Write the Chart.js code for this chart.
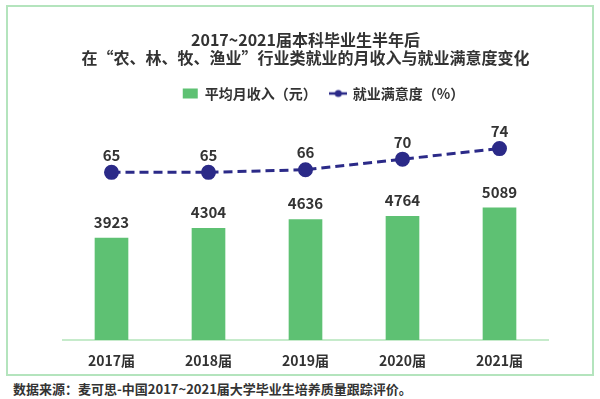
<!DOCTYPE html>
<html>
<head>
<meta charset="utf-8">
<script src="https://cdn.jsdelivr.net/npm/chart.js@4/dist/chart.umd.min.js"></script>
<style>
  body { margin: 0; background: #fff; font-family: "Noto Sans CJK SC", sans-serif; }
  #frame { position: absolute; left: 6px; top: 5px; width: 588px; height: 371px; box-sizing: border-box; border: 2px solid #b4e4bd; }
  #frame canvas { display: block; }
  #source { position: absolute; left: 13px; top: 379px; font-size: 13px; font-weight: bold; color: #333; white-space: nowrap; }
</style>
</head>
<body>
<div id="frame"><canvas id="chart" width="584" height="367"></canvas></div>
<div id="source">数据来源：麦可思-中国2017~2021届大学毕业生培养质量跟踪评价。</div>
<script>
// 数据
const years = ['2017届', '2018届', '2019届', '2020届', '2021届'];
const income = [3923, 4304, 4636, 4764, 5089];
const satisfaction = [65, 65, 66, 70, 74];

const green = '#5ec173';
const navy = '#2b2a88';
const textColor = '#333';
const fontFamily = '"Noto Sans CJK SC", sans-serif';

// 图例里带圆点的折线小图标
function lineIcon() {
    const c = document.createElement('canvas');
    c.width = 18; c.height = 10;
    const ctx = c.getContext('2d');
    ctx.strokeStyle = navy;
    ctx.lineWidth = 2.5;
    ctx.beginPath(); ctx.moveTo(0, 5); ctx.lineTo(18, 5); ctx.stroke();
    ctx.fillStyle = navy;
    ctx.beginPath(); ctx.arc(9, 5, 3.5, 0, Math.PI * 2); ctx.fill();
    return c;
}

// 数值标签
const valueLabels = {
    id: 'valueLabels',
    afterDatasetsDraw(chart) {
        const ctx = chart.ctx;
        ctx.save();
        ctx.font = 'bold 15px ' + fontFamily;
        ctx.fillStyle = textColor;
        ctx.textAlign = 'center';
        ctx.textBaseline = 'middle';
        chart.data.datasets.forEach((ds, i) => {
            const meta = chart.getDatasetMeta(i);
            const gap = ds.type === 'line' ? 17 : 16;
            meta.data.forEach((el, j) => {
                ctx.fillText(String(ds.data[j]), el.x, el.y - gap);
            });
        });
        ctx.restore();
    }
};

// 原图图例略偏右
const legendShift = {
    id: 'legendShift',
    afterLayout(chart) {
        chart.legend.left += 18;
        chart.legend.right += 18;
    }
};

new Chart(document.getElementById('chart'), {
    type: 'bar',
    data: {
        labels: years,
        datasets: [
            {
                label: '平均月收入（元）',
                data: income,
                backgroundColor: green,
                barThickness: 33,
                yAxisID: 'y',
                order: 2
            },
            {
                type: 'line',
                label: '就业满意度（%）',
                data: satisfaction,
                borderColor: navy,
                backgroundColor: navy,
                borderWidth: 3,
                borderDash: [9, 5],
                pointRadius: 6,
                pointHoverRadius: 6,
                yAxisID: 'y2',
                order: 1
            }
        ]
    },
    options: {
        responsive: false,
        animation: false,
        layout: { padding: { left: 55, right: 44, top: 0, bottom: -6.8 } },
        plugins: {
            title: {
                display: true,
                text: ['2017~2021届本科毕业生半年后', '在“农、林、牧、渔业”行业类就业的月收入与就业满意度变化'],
                color: textColor,
                font: { family: fontFamily, size: 16, weight: 'bold', lineHeight: 1.125 },
                padding: { top: 24, bottom: 5.5 }
            },
            legend: {
                labels: {
                    color: textColor,
                    font: { family: fontFamily, size: 14, weight: 'bold' },
                    usePointStyle: true,
                    pointStyleWidth: 15,
                    boxHeight: 10,
                    padding: 14,
                    generateLabels(chart) {
                        const items = Chart.defaults.plugins.legend.labels.generateLabels(chart);
                        items.sort((a, b) => a.datasetIndex - b.datasetIndex);
                        items.forEach(item => {
                            if (item.datasetIndex === 0) {
                                item.pointStyle = 'rect';
                                item.lineWidth = 0;
                            } else {
                                item.pointStyle = lineIcon();
                            }
                        });
                        return items;
                    }
                }
            },
            tooltip: { enabled: false }
        },
        scales: {
            x: {
                grid: { display: false, drawTicks: false },
                border: { color: '#c6ebcb', width: 2 },
                ticks: { color: textColor, font: { family: fontFamily, size: 14, weight: 'bold' }, padding: 12 }
            },
            y: { display: false, min: 0, max: 8836 },
            y2: { display: false, min: 1.6, max: 88.4 }
        }
    },
    plugins: [valueLabels, legendShift]
});
</script>
</body>
</html>
